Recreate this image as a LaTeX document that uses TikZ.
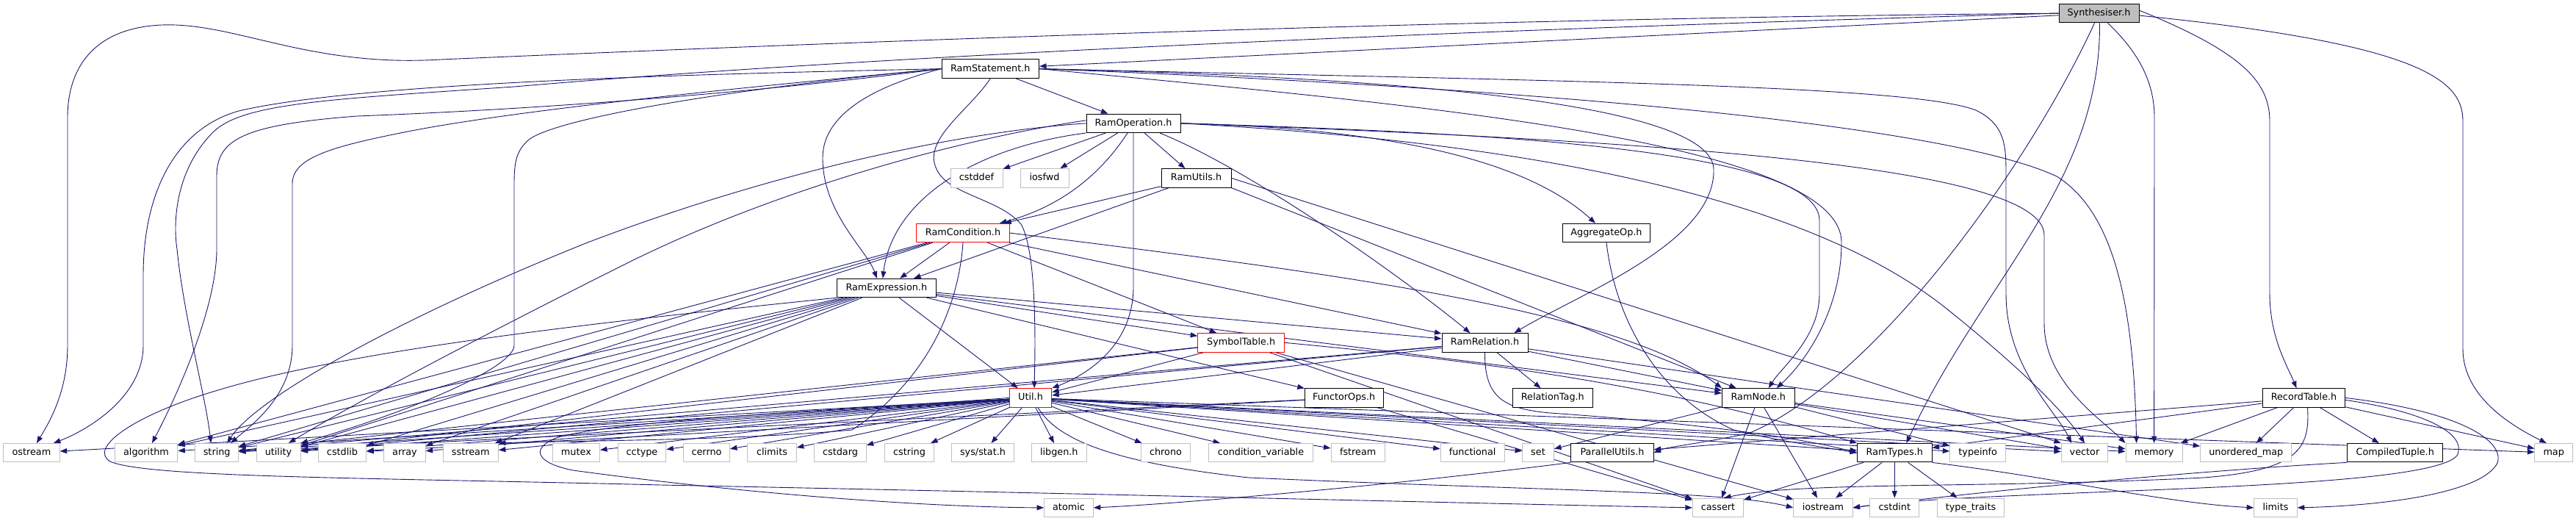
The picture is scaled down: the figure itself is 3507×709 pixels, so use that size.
\documentclass[tikz,border=0pt]{standalone}
\usepackage{fontspec}
\setmainfont{DejaVu Sans}
\usetikzlibrary{arrows.meta}
\pgfdeclarelayer{bg}
\pgfsetlayers{bg,main}
\definecolor{edgecol}{HTML}{191970}
\definecolor{sysgray}{HTML}{BFBFBF}
\begin{document}
\begin{tikzpicture}[x=1pt,y=-1pt,
 box/.style={rectangle, draw, fill=white, minimum height=25.4pt, inner sep=0pt, font=\fontsize{12.8}{15}\selectfont, text height=9.4pt, text depth=2.6pt, line width=1pt},
 sys/.style={box, draw=sysgray},
 loc/.style={box, draw=black},
 trunc/.style={box, draw=red},
 root/.style={box, draw=black, fill=sysgray},
 e/.style={draw=edgecol, line width=0.9pt, -{Triangle[length=9.5pt,width=7pt]}}]
\useasboundingbox (0,0) rectangle (3507,709);
% ranks 0-7
\node[root, minimum width=109pt] (syn) at (2857.5,18.1) {Synthesiser.h};
\node[loc, minimum width=132.5pt] (stmt) at (1348.3,93.6) {RamStatement.h};
\node[loc, minimum width=128pt] (oper) at (1543,167.8) {RamOperation.h};
\node[sys, minimum width=71pt] (cstddef) at (1329.5,242.4) {cstddef};
\node[sys, minimum width=66pt] (iosfwd) at (1422,242.4) {iosfwd};
\node[loc, minimum width=95pt] (utils) at (1628.5,242.4) {RamUtils.h};
\node[trunc, minimum width=126.7pt] (cond) at (1311,317) {RamCondition.h};
\node[loc, minimum width=119pt] (aggr) at (2187,317) {AggregateOp.h};
\node[loc, minimum width=134.5pt] (expr) at (1206.8,392) {RamExpression.h};
\node[trunc, minimum width=117.8pt] (symt) at (1689.6,466.3) {SymbolTable.h};
\node[loc, minimum width=117pt] (rel) at (2021.5,466.3) {RamRelation.h};
\node[trunc, minimum width=57.4pt] (util) at (1403,541.4) {Util.h};
\node[loc, minimum width=106.6pt] (functor) at (1829.7,541.4) {FunctorOps.h};
\node[loc, minimum width=109.6pt] (reltag) at (2113.8,541.4) {RelationTag.h};
\node[loc, minimum width=98.5pt] (ramnode) at (2393.8,541.4) {RamNode.h};
\node[loc, minimum width=112.3pt] (rectab) at (3136.5,541.4) {RecordTable.h};
% rank 8
\node[sys, minimum width=76.5pt] (ostream) at (42.9,616.2) {ostream};
\node[sys, minimum width=85.7pt] (algorithm) at (199,616.2) {algorithm};
\node[sys, minimum width=58.5pt] (string) at (295.2,616.2) {string};
\node[sys, minimum width=60pt] (utility) at (379,616.2) {utility};
\node[sys, minimum width=65.4pt] (cstdlib) at (466,616.2) {cstdlib};
\node[sys, minimum width=56.3pt] (array) at (551,616.2) {array};
\node[sys, minimum width=75.3pt] (sstream) at (640.7,616.2) {sstream};
\node[sys, minimum width=64.3pt] (mutex) at (784.4,616.2) {mutex};
\node[sys, minimum width=65.5pt] (cctype) at (874,616.2) {cctype};
\node[sys, minimum width=62.8pt] (cerrno) at (962,616.2) {cerrno};
\node[sys, minimum width=66.6pt] (climits) at (1051,616.2) {climits};
\node[sys, minimum width=70.5pt] (cstdarg) at (1144,616.2) {cstdarg};
\node[sys, minimum width=66.6pt] (cstring) at (1238,616.2) {cstring};
\node[sys, minimum width=85.8pt] (sysstat) at (1338,616.2) {sys/stat.h};
\node[sys, minimum width=74.6pt] (libgen) at (1441.8,616.2) {libgen.h};
\node[sys, minimum width=66.6pt] (chrono) at (1587,616.2) {chrono};
\node[sys, minimum width=142.6pt] (condvar) at (1716.5,616.2) {condition\_variable};
\node[sys, minimum width=73.4pt] (fstream) at (1848.7,616.2) {fstream};
\node[sys, minimum width=86.8pt] (functional) at (2004.6,616.2) {functional};
\node[sys, minimum width=42.9pt] (set) at (2094,616.2) {set};
\node[loc, minimum width=112.2pt] (par) at (2195,616.2) {ParallelUtils.h};
\node[loc, minimum width=101.4pt] (ramtypes) at (2579.3,616.2) {RamTypes.h};
\node[sys, minimum width=75.8pt] (typeinfo) at (2692.7,616.2) {typeinfo};
\node[sys, minimum width=63.2pt] (vector) at (2838,616.2) {vector};
\node[sys, minimum width=77.2pt] (memory) at (2932.6,616.2) {memory};
\node[sys, minimum width=124.3pt] (umap) at (3057.8,616.2) {unordered\_map};
\node[loc, minimum width=130.5pt] (ctuple) at (3260.7,616.2) {CompiledTuple.h};
\node[sys, minimum width=51.5pt] (map) at (3476.7,616.2) {map};
% rank 9
\node[sys, minimum width=66.6pt] (atomic) at (1455,690.9) {atomic};
\node[sys, minimum width=69.2pt] (cassert) at (2339,690.9) {cassert};
\node[sys, minimum width=80.3pt] (iostream) at (2481.9,690.9) {iostream};
\node[sys, minimum width=67pt] (cstdint) at (2579.3,690.9) {cstdint};
\node[sys, minimum width=91.8pt] (typetraits) at (2683,690.9) {type\_traits};
\node[sys, minimum width=58.5pt] (limits) at (3098,690.9) {limits};

\begin{pgfonlayer}{bg}
% Synthesiser.h
\draw[e] (syn) -- (stmt);
\draw[e] (syn.west) .. controls (2000,25) and (1200,55) .. (600,81) .. controls (420,92) and (320,30) .. (220,34) .. controls (130,38) and (92,90) .. (92,160) -- (92,470) .. controls (92,530) and (70,570) .. ([xshift=7pt]ostream.north);
\draw[e] (syn.west) .. controls (2000,40) and (1200,75) .. (700,118) .. controls (450,135) and (330,140) .. (290,180) .. controls (240,230) and (235,300) .. (241,339) .. controls (250,430) and (280,540) .. ([xshift=-8pt]string.north);
\draw[e] ([xshift=-6pt]syn.south) .. controls (2760,230) and (2550,520) .. (2380,590) .. controls (2300,606) and (2270,608) .. (par.east);
\draw[e] ([xshift=1pt]syn.south) .. controls (2860,250) and (2700,380) .. ([xshift=16pt]ramtypes.north);
\draw[e] ([xshift=12pt]syn.south) .. controls (2910,70) and (2933,110) .. (2933,160) -- (memory.north);
\draw[e] ([yshift=4pt]syn.east) .. controls (3050,70) and (3090,110) .. (3090,165) -- (3090,400) .. controls (3090,460) and (3115,500) .. ([xshift=-10pt]rectab.north);
\draw[e] ([yshift=-3pt]syn.east) .. controls (3300,60) and (3353,110) .. (3353,165) -- (3353,475) .. controls (3353,540) and (3420,580) .. ([xshift=-10pt]map.north);
% RamStatement.h
\draw[e] (stmt) -- (oper);
\draw[e] (stmt.west) .. controls (1000,100) and (500,110) .. (325,151) .. controls (240,175) and (195,260) .. (195,375) -- (195,470) .. controls (195,540) and (120,585) .. ([xshift=30pt]ostream.north);
\draw[e] (stmt.west) .. controls (1000,120) and (700,150) .. (550,180) .. controls (450,200) and (398,215) .. (398,250) -- (398,470) .. controls (398,540) and (340,580) .. ([xshift=19pt]string.north);
\draw[e] (stmt.west) .. controls (1000,130) and (700,150) .. (486,158) .. controls (330,170) and (295,190) .. (295,240) -- (295,339) .. controls (295,420) and (240,540) .. ([xshift=8pt]algorithm.north);
\draw[e] (stmt.west) .. controls (1000,120) and (760,160) .. (720,190) .. controls (703,205) and (700,220) .. (700,250) -- (700,470) .. controls (700,500) and (560,560) .. (utility.north east);
\draw[e] (stmt.west) .. controls (1160,125) and (1120,170) .. (1120,215) .. controls (1120,290) and (1180,340) .. ([xshift=-13pt]expr.north);
\draw[e] (stmt.south) .. controls (1320,150) and (1255,190) .. (1275,230) .. controls (1290,265) and (1360,270) .. (1390,305) .. controls (1410,340) and (1410,450) .. ([xshift=5pt]util.north);
\draw[e] (stmt.east) .. controls (1900,105) and (2330,140) .. (2333,230) .. controls (2336,330) and (2150,400) .. ([xshift=40pt]rel.north);
\draw[e] (stmt.east) .. controls (1900,140) and (2507,190) .. (2507,330) .. controls (2507,420) and (2460,490) .. ([xshift=25pt]ramnode.north);
\draw[e] (stmt.east) .. controls (2100,110) and (2600,115) .. (2690,150) .. controls (2731,170) and (2731,200) .. (2731,240) -- (2731,400) .. controls (2731,500) and (2800,560) .. ([xshift=-18pt]vector.north);
\draw[e] (stmt.east) .. controls (2100,120) and (2650,170) .. (2800,240) .. controls (2880,290) and (2905,420) .. ([xshift=-24pt]memory.north);
% RamOperation.h
\draw[e] (oper) -- (cstddef);
\draw[e] (oper) -- (iosfwd);
\draw[e] (oper) -- (utils);
\draw[e] ([xshift=-8pt]oper.south) .. controls (1490,250) and (1430,285) .. ([xshift=50pt]cond.north);
\draw[e] (oper.south) -- (1543,390) .. controls (1543,470) and (1480,510) .. (util.north east);
\draw[e] (oper.south west) .. controls (1330,200) and (1215,270) .. ([xshift=-5pt]expr.north);
\draw[e] (oper.east) .. controls (1900,175) and (2080,220) .. ([xshift=-15pt]aggr.north);
\draw[e] ([xshift=36pt]oper.south) .. controls (1700,230) and (1900,370) .. ([xshift=-20pt]rel.north);
\draw[e] (oper.east) .. controls (2000,180) and (2477,200) .. (2477,300) -- (2477,400) .. controls (2477,460) and (2425,500) .. ([xshift=14pt]ramnode.north);
\draw[e] (oper.east) .. controls (2200,190) and (2783,220) .. (2783,320) -- (2783,440) .. controls (2783,520) and (2860,570) .. (memory.north west);
\draw[e] (oper.east) .. controls (2200,200) and (2500,300) .. (2650,420) .. controls (2750,500) and (2810,560) .. (vector.north);
\draw[e] (oper.west) .. controls (1300,180) and (1050,235) .. (800,330) .. controls (550,430) and (350,540) .. ([xshift=14pt]string.north);
\draw[e] ([yshift=4pt]oper.west) .. controls (1300,190) and (1050,260) .. (850,360) .. controls (650,460) and (480,550) .. ([xshift=14pt]utility.north);
% RamUtils.h
\draw[e] (utils) -- (cond);
\draw[e] (utils) -- (expr);
\draw[e] (utils.south east) -- ([xshift=-30pt]ramnode.north);
\draw[e] (utils.east) -- (vector.north west);
% RamCondition.h
\draw[e] (cond) -- (expr);
\draw[e] (cond) -- (symt);
\draw[e] (cond) -- (rel);
\draw[e] (cond.east) .. controls (1800,370) and (2200,420) .. (ramnode.north west);
\draw[e] (cond.south) .. controls (1305,420) and (1260,520) .. (1160,585) .. controls (1000,600) and (750,600) .. (sstream.north east);
\draw[e] (cond) -- (string);
\draw[e] (cond) -- (utility);
\draw[e] (cond) -- (algorithm);
% AggregateOp.h
\draw[e] (aggr.south) .. controls (2200,440) and (2260,540) .. (2360,585) .. controls (2420,600) and (2480,608) .. (ramtypes.west);
% RamExpression.h
\draw[e] (expr) -- (functor);
\draw[e] (expr) -- (symt);
\draw[e] (expr) -- (rel);
\draw[e] (expr) -- (ramnode);
\draw[e] (expr) -- (util);
\draw[e] (expr) -- (algorithm);
\draw[e] (expr) -- (string);
\draw[e] (expr) -- (utility);
\draw[e] (expr) -- (cstdlib);
\draw[e] (expr) -- (array);
\draw[e] (expr) -- (sstream);
\draw[e] (expr.south west) .. controls (900,430) and (500,470) .. (300,530) .. controls (180,565) and (120,610) .. (150,628) .. controls (200,650) and (500,650) .. (900,660) .. controls (1500,672) and (2000,685) .. (cassert.west);
% SymbolTable.h
\draw[e] (symt) -- (util);
\draw[e] (symt) -- (string);
\draw[e] (symt) -- (utility);
\draw[e] (symt.east) .. controls (2000,490) and (2250,520) .. (ramtypes.north west);
\draw[e] (symt) -- (cassert);
\draw[e] (symt) -- (iostream);
% RamRelation.h
\draw[e] (rel) -- (ramnode);
\draw[e] (rel) -- (reltag);
\draw[e] (rel) -- (util);
\draw[e] (rel) -- (string);
\draw[e] (rel) -- (utility);
\draw[e] (rel) -- (umap);
\draw[e] (rel.south) .. controls (2021,540) and (2045,556) .. (2110,562) .. controls (2300,575) and (2450,595) .. (ramtypes.west);
% FunctorOps.h
\draw[e] (functor) -- (string);
\draw[e] (functor) -- (cstdlib);
\draw[e] (functor) -- (cassert);
% RamNode.h
\draw[e] (ramnode) -- (cassert);
\draw[e] (ramnode) -- (set);
\draw[e] (ramnode) -- (typeinfo);
\draw[e] (ramnode) -- (vector);
\draw[e] (ramnode) -- (memory);
\draw[e] (ramnode) -- (iostream);
% RamTypes.h
\draw[e] (ramtypes) -- (cassert);
\draw[e] (ramtypes) -- (iostream);
\draw[e] (ramtypes) -- (cstdint);
\draw[e] (ramtypes) -- (typetraits);
\draw[e] (ramtypes.south east) .. controls (2800,650) and (2950,685) .. (limits.west);
% RecordTable.h
\draw[e] (rectab) -- (par);
\draw[e] (rectab) -- (ramtypes);
\draw[e] (rectab) -- (memory);
\draw[e] (rectab) -- (umap);
\draw[e] (rectab) -- (ctuple);
\draw[e] (rectab) -- (map);
\draw[e] (rectab.east) .. controls (3350,560) and (3410,600) .. (3400,630) .. controls (3380,670) and (3250,688) .. (limits.east);
\draw[e] ([yshift=-3pt]rectab.east) .. controls (3300,560) and (3360,590) .. (3345,620) .. controls (3320,650) and (3100,660) .. (2900,668) .. controls (2700,676) and (2600,680) .. (iostream.east);
\draw[e] ([xshift=5pt]rectab.south) .. controls (3145,610) and (3130,640) .. (3000,650) .. controls (2700,665) and (2450,655) .. ([xshift=8pt]cassert.north);
% CompiledTuple.h, ParallelUtils.h
\draw[e] (ctuple.south west) .. controls (3000,640) and (2700,668) .. (iostream.east);
\draw[e] (par.south west) .. controls (1900,660) and (1600,686) .. (atomic.east);
% Util.h
\foreach \t in {ostream,algorithm,string,utility,cstdlib,array,sstream,mutex,cctype,cerrno,climits,cstdarg,cstring,sysstat,libgen,chrono,condvar,fstream,functional,set,ramtypes,typeinfo,vector,memory,map}
  \draw[e] (util) -- (\t);
\draw[e] (util.west) .. controls (1200,555) and (850,570) .. (760,595) .. controls (720,610) and (730,630) .. (780,640) .. controls (1000,670) and (1250,690) .. (atomic.west);
\draw[e] ([xshift=10pt]util.south) .. controls (1440,600) and (1520,630) .. (1700,650) .. controls (2100,668) and (2350,668) .. (iostream.west);
\end{pgfonlayer}
\end{tikzpicture}
\end{document}
